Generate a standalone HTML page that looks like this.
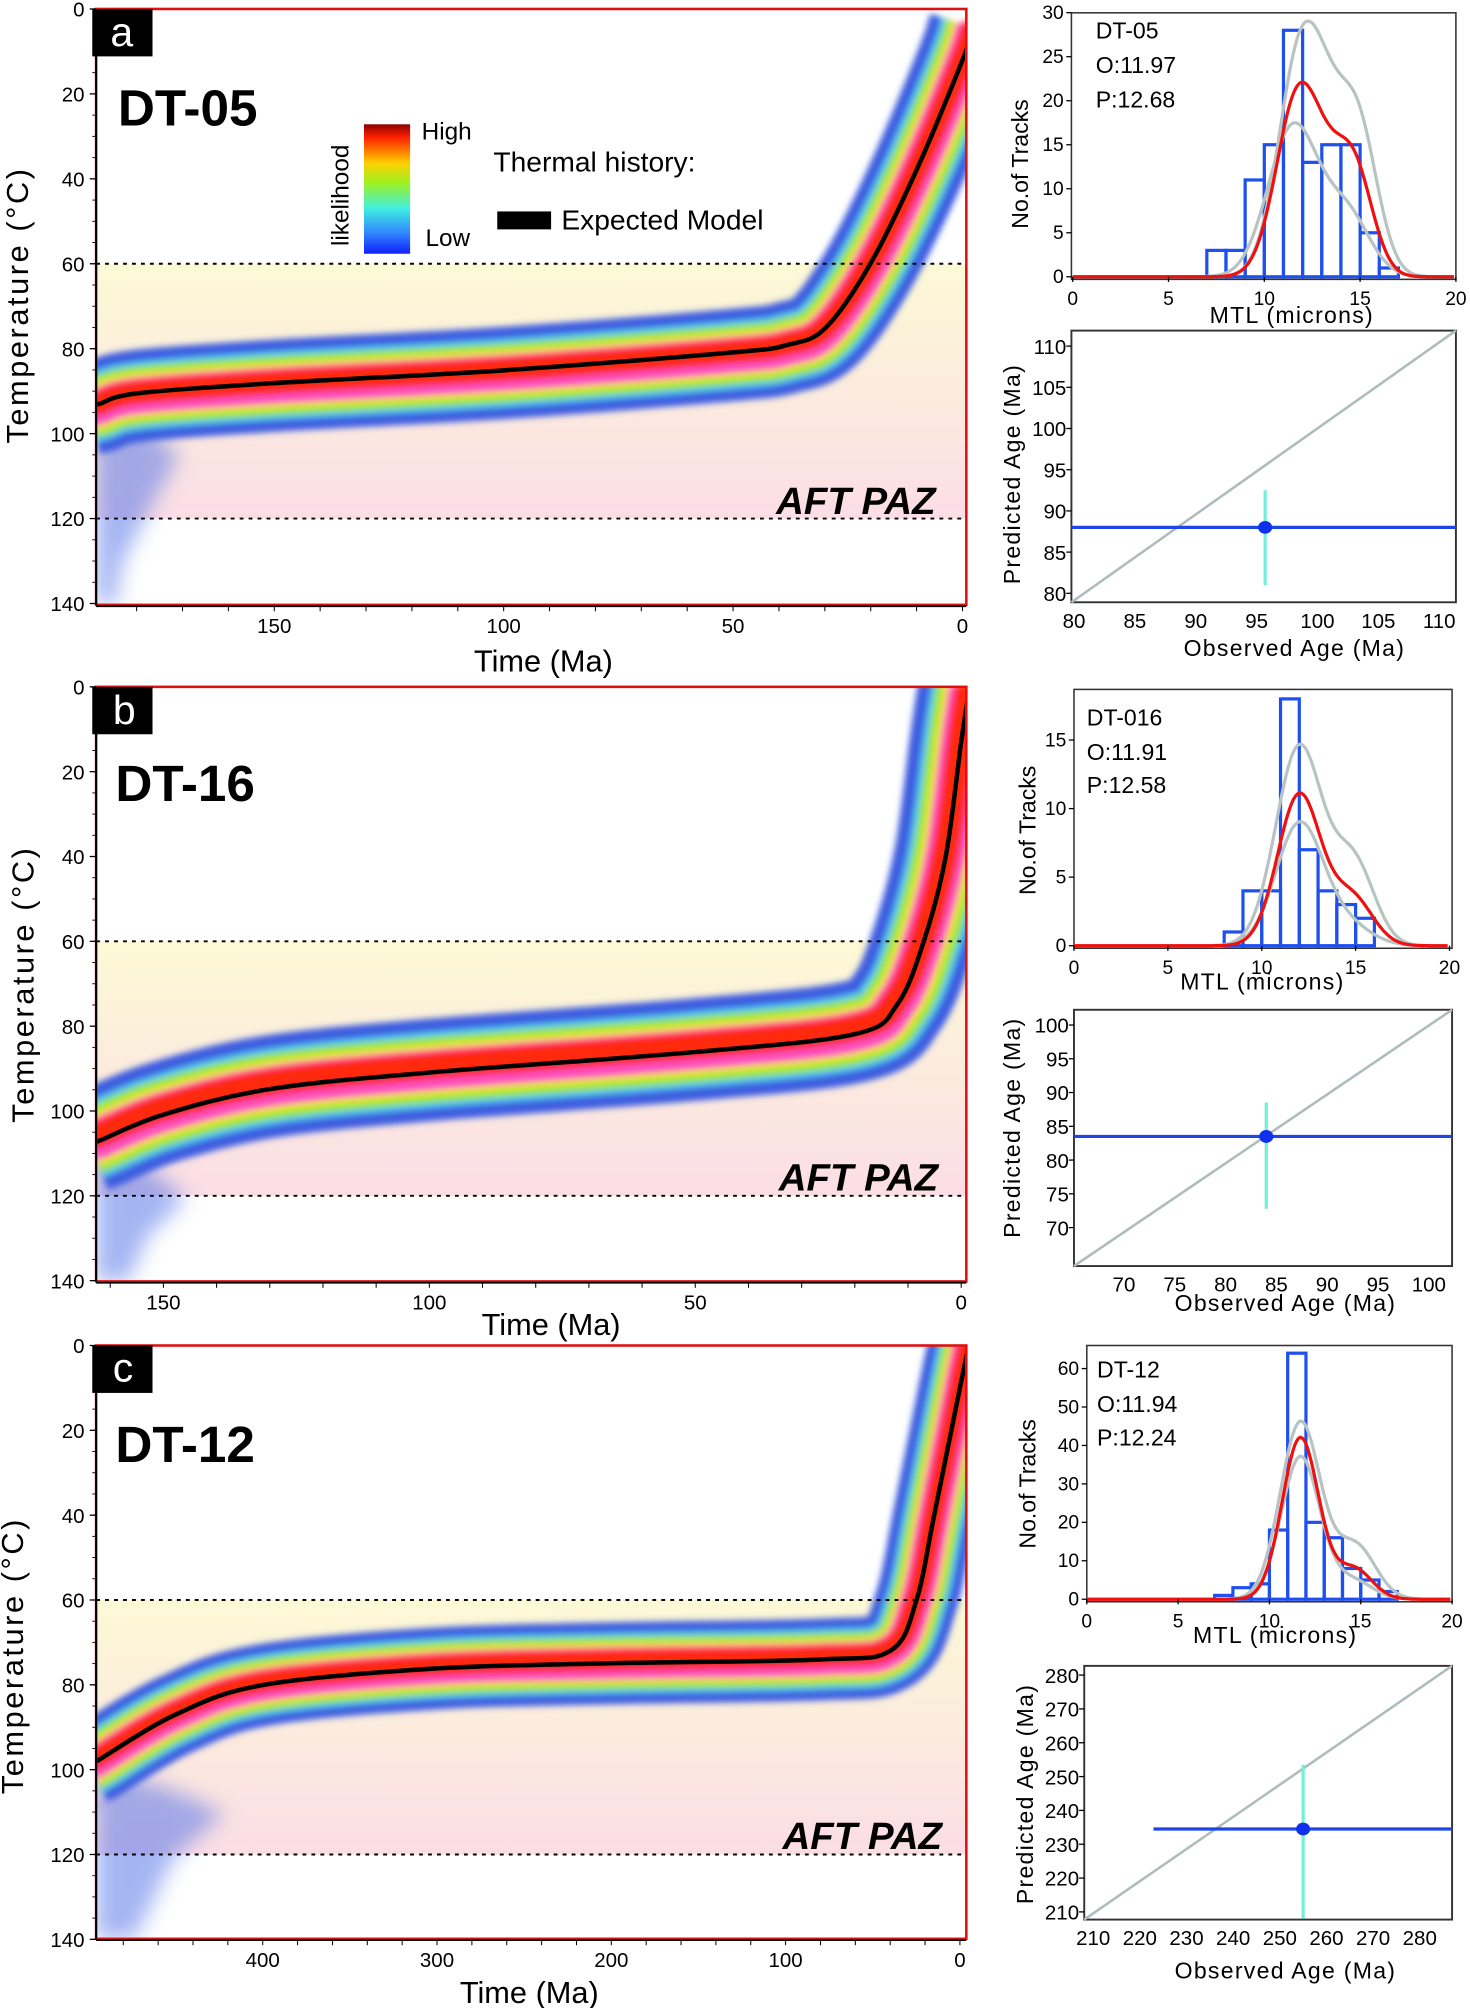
<!DOCTYPE html>
<html><head><meta charset="utf-8"><style>
html,body{margin:0;padding:0;background:#fff;}
svg{display:block;}
text{font-family:"Liberation Sans",sans-serif;}
</style></head><body>
<svg id="s" xmlns="http://www.w3.org/2000/svg" width="1470" height="2008" viewBox="0 0 1147 1567" preserveAspectRatio="none">
<defs>
<filter id="bl" filterUnits="userSpaceOnUse" x="0" y="0" width="1147" height="1567"><feGaussianBlur stdDeviation="2.5"/></filter>
<filter id="bl2" filterUnits="userSpaceOnUse" x="0" y="0" width="1147" height="1567"><feGaussianBlur stdDeviation="8"/></filter>
<linearGradient id="paz" x1="0" y1="0" x2="0" y2="1">
<stop offset="0" stop-color="#fdf9d6"/><stop offset="0.3" stop-color="#fcf1da"/><stop offset="1" stop-color="#fbdde6"/></linearGradient>
<linearGradient id="cb" x1="0" y1="0" x2="0" y2="1">
<stop offset="0" stop-color="#8b0000"/><stop offset="0.1" stop-color="#ff2000"/><stop offset="0.3" stop-color="#ffd000"/><stop offset="0.45" stop-color="#a0f020"/><stop offset="0.65" stop-color="#40f0e0"/><stop offset="0.85" stop-color="#3080ff"/><stop offset="1" stop-color="#1020ff"/></linearGradient>
<clipPath id="ca"><rect x="75" y="7" width="679" height="465"/></clipPath>
<clipPath id="cbp"><rect x="75" y="536" width="679" height="464"/></clipPath>
<clipPath id="cc"><rect x="75" y="1050" width="679" height="463"/></clipPath>
</defs>
<g id="heat"></g>
<g id="fg"></g>
<rect x="72" y="7" width="47" height="37" fill="#000"/><text x="95" y="36" font-size="32" fill="#fff" text-anchor="middle">a</text>
<text x="92" y="98" font-size="40" font-weight="bold">DT-05</text>
<rect x="284" y="97" width="36" height="101" fill="url(#cb)"/>
<text x="329" y="109" font-size="19">High</text><text x="332" y="192" font-size="19">Low</text>
<text transform="translate(272,192) rotate(-90)" font-size="19">likelihood</text>
<text x="385" y="134" font-size="22">Thermal history:</text>
<rect x="388" y="165" width="42" height="14" fill="#000"/>
<text x="438" y="179" font-size="22">Expected Model</text>
<text x="730" y="401" font-size="30" font-weight="bold" font-style="italic" text-anchor="end">AFT PAZ</text>
<text transform="translate(22,238) rotate(-90)" font-size="24" text-anchor="middle" letter-spacing="2">Temperature (°C)</text>
<text x="424" y="524" font-size="24" text-anchor="middle">Time (Ma)</text>
<rect x="72" y="536" width="47" height="37" fill="#000"/><text x="97" y="565" font-size="32" fill="#fff" text-anchor="middle">b</text>
<text x="90" y="625" font-size="40" font-weight="bold">DT-16</text>
<text x="732" y="929" font-size="30" font-weight="bold" font-style="italic" text-anchor="end">AFT PAZ</text>
<text transform="translate(26,768) rotate(-90)" font-size="24" text-anchor="middle" letter-spacing="2">Temperature (°C)</text>
<text x="430" y="1042" font-size="24" text-anchor="middle">Time (Ma)</text>
<rect x="72" y="1050" width="47" height="37" fill="#000"/><text x="96" y="1078" font-size="32" fill="#fff" text-anchor="middle">c</text>
<text x="90" y="1141" font-size="40" font-weight="bold">DT-12</text>
<text x="735" y="1443" font-size="30" font-weight="bold" font-style="italic" text-anchor="end">AFT PAZ</text>
<text transform="translate(18,1292) rotate(-90)" font-size="24" text-anchor="middle" letter-spacing="2">Temperature (°C)</text>
<text x="413" y="1563" font-size="24" text-anchor="middle">Time (Ma)</text>
<text x="855" y="30" font-size="18">DT-05</text><text x="855" y="57" font-size="18">O:11.97</text><text x="855" y="84" font-size="18">P:12.68</text>
<text transform="translate(802,128) rotate(-90)" font-size="18" text-anchor="middle">No.of Tracks</text>
<text x="1008" y="252" font-size="18" text-anchor="middle" letter-spacing="1">MTL (microns)</text>
<text transform="translate(796,370) rotate(-90)" font-size="18" text-anchor="middle" letter-spacing="1">Predicted  Age (Ma)</text>
<text x="1010" y="512" font-size="18" text-anchor="middle" letter-spacing="1">Observed  Age (Ma)</text>
<text x="848" y="566" font-size="18">DT-016</text><text x="848" y="593" font-size="18">O:11.91</text><text x="848" y="619" font-size="18">P:12.58</text>
<text transform="translate(808,648) rotate(-90)" font-size="18" text-anchor="middle">No.of Tracks</text>
<text x="985" y="772" font-size="18" text-anchor="middle" letter-spacing="1">MTL (microns)</text>
<text transform="translate(796,880) rotate(-90)" font-size="18" text-anchor="middle" letter-spacing="1">Predicted  Age (Ma)</text>
<text x="1003" y="1023" font-size="18" text-anchor="middle" letter-spacing="1">Observed  Age (Ma)</text>
<text x="856" y="1075" font-size="18">DT-12</text><text x="856" y="1102" font-size="18">O:11.94</text><text x="856" y="1128" font-size="18">P:12.24</text>
<text transform="translate(808,1158) rotate(-90)" font-size="18" text-anchor="middle">No.of Tracks</text>
<text x="995" y="1282" font-size="18" text-anchor="middle" letter-spacing="1">MTL (microns)</text>
<text transform="translate(806,1400) rotate(-90)" font-size="18" text-anchor="middle" letter-spacing="1">Predicted  Age (Ma)</text>
<text x="1003" y="1544" font-size="18" text-anchor="middle" letter-spacing="1">Observed  Age (Ma)</text>
</svg>
<script>
var NS="http://www.w3.org/2000/svg";
var heat=document.getElementById('heat'),fg=document.getElementById('fg');
function el(p,tag,a,txt){var e=document.createElementNS(NS,tag);for(var k in a)e.setAttribute(k,a[k]);if(txt!=null)e.textContent=txt;p.appendChild(e);return e;}
function smooth(pts){var d="M"+pts[0][0]+","+pts[0][1];for(var i=0;i<pts.length-1;i++){var p0=pts[i-1]||pts[i],p1=pts[i],p2=pts[i+1],p3=pts[i+2]||p2;
var c1=[p1[0]+(p2[0]-p0[0])/6,p1[1]+(p2[1]-p0[1])/6],c2=[p2[0]-(p3[0]-p1[0])/6,p2[1]-(p3[1]-p1[1])/6];
d+=" C"+c1[0].toFixed(1)+","+c1[1].toFixed(1)+" "+c2[0].toFixed(1)+","+c2[1].toFixed(1)+" "+p2[0]+","+p2[1];}return d;}
function shift(pts,dy){return pts.map(function(p){return [p[0],p[1]+dy];});}
function panel(o){
 var g=el(heat,'g',{'clip-path':'url(#'+o.clip+')'});
 var y60=o.y0+60*o.sy,y120=o.y0+120*o.sy;
 el(g,'rect',{x:75,y:y60,width:679,height:y120-y60,fill:'url(#paz)'});
 el(g,'path',{d:o.tail,fill:'#5a78e8',opacity:0.55,filter:'url(#bl2)'});
 var h=el(g,'g',{filter:'url(#bl)'});
 var layers=[['#3d5de0',o.w*1.0,0],['#50c8f0',o.w*0.74,0],['#9ae630',o.w*0.64,0],['#f0e82a',o.w*0.5,0],['#ff50c0',o.w*0.4,0],['#ff2a10',o.w*0.26,-o.w*0.04]];
 layers.forEach(function(L){el(h,'path',{d:smooth(shift(o.pts,L[2]+o.off)),fill:'none',stroke:L[0],'stroke-width':L[1],'stroke-linecap':'butt','stroke-linejoin':'round'});});
 el(g,'path',{d:smooth(o.pts),fill:'none',stroke:'#000','stroke-width':3.5});
 [y60,y120].forEach(function(y){el(fg,'line',{x1:75,x2:754,y1:y,y2:y,stroke:'#000','stroke-width':1.5,'stroke-dasharray':'3,4'});});
 el(fg,'rect',{x:75,y:o.y0,width:679,height:o.h,fill:'none',stroke:'#e01010','stroke-width':2});
 el(fg,'line',{x1:75,x2:75,y1:o.y0,y2:o.y0+o.h,stroke:'#000','stroke-width':1.5});
 el(fg,'line',{x1:75,x2:754,y1:o.y0+o.h+1,y2:o.y0+o.h+1,stroke:'#000','stroke-width':1.5});
 for(var T=0;T<=140;T+=20){var y=o.y0+T*o.sy;el(fg,'text',{x:66,y:y+6,'font-size':16,'text-anchor':'end'},''+T);el(fg,'line',{x1:70,x2:75,y1:y,y2:y,stroke:'#000'});}
 for(var T=0;T<=140;T+=5){var y=o.y0+T*o.sy;el(fg,'line',{x1:72,x2:75,y1:y,y2:y,stroke:'#000','stroke-width':0.7});}
 o.xt.forEach(function(t){var x=o.x0-t*o.sx;el(fg,'text',{x:x,y:o.y0+o.h+22,'font-size':16,'text-anchor':'middle'},''+t);});
 for(var t=0;t*o.sx<680;t+=o.minor){var x=o.x0-t*o.sx;el(fg,'line',{x1:x,x2:x,y1:o.y0+o.h+1,y2:o.y0+o.h+5,stroke:'#000','stroke-width':0.8});}
}
panel({clip:'ca',y0:7,h:465,sy:3.314,x0:751,sx:3.58,xt:[150,100,50,0],minor:10,w:72,off:2,
 pts:[[70,317],[78,315],[107,307],[214,299],[393,289],[572,275],[615,269],[644,256],[679,206],[715,133],[751,47],[760,20]],
 tail:"M75,320 L110,330 L140,355 L115,400 L95,440 L90,472 L75,472 Z"});
panel({clip:'cbp',y0:536,h:464,sy:3.31,x0:750,sx:4.15,xt:[150,100,50,0],minor:10,w:80,off:-2,
 pts:[[70,893],[78,890],[127,870],[210,850],[335,837],[542,821],[667,807],[700,784],[721,734],[738,668],[750,579],[756,540]],
 tail:"M75,900 L115,910 L145,935 L115,965 L100,1000 L75,1000 Z"});
panel({clip:'cc',y0:1050,h:463,sy:3.31,x0:749,sx:1.36,xt:[400,300,200,100,0],minor:20,w:64,off:0,
 pts:[[70,1377],[76,1374],[137,1338],[205,1315],[341,1302],[477,1298],[640,1295],[695,1288],[715,1249],[729,1182],[749,1083],[756,1050]],
 tail:"M75,1380 L130,1395 L175,1415 L135,1450 L105,1513 L75,1513 Z"});
function g(x,m,s){return Math.exp(-0.5*Math.pow((x-m)/s,2));}
function hist(o){
 var X=function(v){return o.x0+v*(o.x1-o.x0)/20;},Y=function(c){return o.yb-c*o.k;};
 el(fg,'rect',{x:o.bx,y:o.by,width:o.bw,height:o.bh,fill:'none',stroke:'#333','stroke-width':1.2});
 o.bars.forEach(function(b){el(fg,'rect',{x:X(b[0]),y:Y(b[1]),width:X(b[0]+1)-X(b[0]),height:b[1]*o.k,fill:'none',stroke:'#1e50f0','stroke-width':2.5});});
 function curve(f,col){var d="";for(var v=0;v<=20;v+=0.1){d+=(v?"L":"M")+X(v).toFixed(1)+","+Y(f(v)).toFixed(1);}el(fg,'path',{d:d,fill:'none',stroke:col,'stroke-width':2.5});}
 curve(o.gu,'#b8c4c4');curve(o.gl,'#b8c4c4');curve(o.r,'#f01010');
 [0,5,10,15,20].forEach(function(v){el(fg,'text',{x:X(v),y:o.yb+22,'font-size':15,'text-anchor':'middle'},''+v);el(fg,'line',{x1:X(v),x2:X(v),y1:o.yb,y2:o.yb+4,stroke:'#000'});});
 o.yt.forEach(function(c){el(fg,'text',{x:o.bx-6,y:Y(c)+5,'font-size':15,'text-anchor':'end'},''+c);el(fg,'line',{x1:o.bx-4,x2:o.bx,y1:Y(c),y2:Y(c),stroke:'#000'});});
}
hist({bx:836,by:10,bw:300,bh:208,x0:837,x1:1136,yb:216,k:6.87,yt:[0,5,10,15,20,25,30],
 bars:[[7,3],[8,3],[9,11],[10,15],[11,28],[12,13],[13,15],[14,15],[15,5],[16,1]],
 r:function(x){return 21*g(x,11.8,1.15)+13*g(x,14.6,1.0)+3*g(x,13.2,0.8);},
 gu:function(x){return 27*g(x,12,1.2)+18*g(x,14.8,1.05)+4*g(x,13.3,0.8);},
 gl:function(x){return 17*g(x,11.5,1.3)+7*g(x,14.3,1.2);}});
hist({bx:838,by:538,bw:295,bh:202,x0:838,x1:1131,yb:738,k:10.7,yt:[0,5,10,15],
 bars:[[8,1],[9,4],[10,4],[11,18],[12,7],[13,4],[14,3],[15,2]],
 r:function(x){return 11*g(x,12,1.15)+3.5*g(x,14.8,1.1);},
 gu:function(x){return 14.5*g(x,12,1.25)+6*g(x,14.9,1.1);},
 gl:function(x){return 8.8*g(x,12,1.25)+1.5*g(x,14.5,1.3);}});
hist({bx:848,by:1050,bw:285,bh:200,x0:848,x1:1133,yb:1248,k:3.0,yt:[0,10,20,30,40,50,60],
 bars:[[7,1],[8,3],[9,4],[10,18],[11,64],[12,20],[13,16],[14,8],[15,5],[16,2]],
 r:function(x){return 42*g(x,11.7,1.0)+8*g(x,14.6,1.0);},
 gu:function(x){return 46*g(x,11.7,1.1)+14*g(x,14.7,1.1);},
 gl:function(x){return 37*g(x,11.7,1.05)+5*g(x,14.5,1.1);}});
function age(o){
 var X=function(v){return o.ax+(v-o.xa)*o.kx;},Y=function(v){return o.ay-(v-o.ya)*o.ky;};
 el(fg,'rect',{x:o.bx,y:o.by,width:o.bw,height:o.bh,fill:'none',stroke:'#333','stroke-width':1.5});
 el(fg,'line',{x1:o.bx,y1:o.by+o.bh,x2:o.bx+o.bw,y2:o.by,stroke:'#b0bcbc','stroke-width':2});
 el(fg,'line',{x1:X(o.px),x2:X(o.px),y1:Y(o.e1),y2:Y(o.e2),stroke:'#70f0d8','stroke-width':2.5});
 el(fg,'line',{x1:o.hx1,x2:o.bx+o.bw,y1:Y(o.py),y2:Y(o.py),stroke:'#1e46e6','stroke-width':2.5});
 el(fg,'ellipse',{cx:X(o.px),cy:Y(o.py),rx:5.5,ry:5,fill:'#1030f0'});
 o.xt.forEach(function(v){el(fg,'text',{x:X(v),y:o.by+o.bh+20,'font-size':16,'text-anchor':'middle'},''+v);});
 o.yt.forEach(function(v){el(fg,'text',{x:o.bx-4,y:Y(v)+6,'font-size':16,'text-anchor':'end'},''+v);el(fg,'line',{x1:o.bx-4,x2:o.bx,y1:Y(v),y2:Y(v),stroke:'#000'});});
}
age({bx:836,by:258,bw:300,bh:212,ax:838,xa:80,kx:9.5,ay:463,ya:80,ky:6.43,xt:[80,85,90,95,100,105,110],yt:[80,85,90,95,100,105,110],px:95.7,py:88,e1:92.5,e2:81,hx1:836});
age({bx:838,by:788,bw:295,bh:200,ax:877,xa:70,kx:7.93,ay:958,ya:70,ky:5.27,xt:[70,75,80,85,90,95,100],yt:[70,75,80,85,90,95,100],px:84,py:83.5,e1:88.5,e2:72.8,hx1:838});
age({bx:846,by:1300,bw:287,bh:198,ax:853,xa:210,kx:3.64,ay:1492,ya:210,ky:2.64,xt:[210,220,230,240,250,260,270,280],yt:[210,220,230,240,250,260,270,280],px:255,py:234.5,e1:253.5,e2:208,hx1:900});
</script>
</body></html>
